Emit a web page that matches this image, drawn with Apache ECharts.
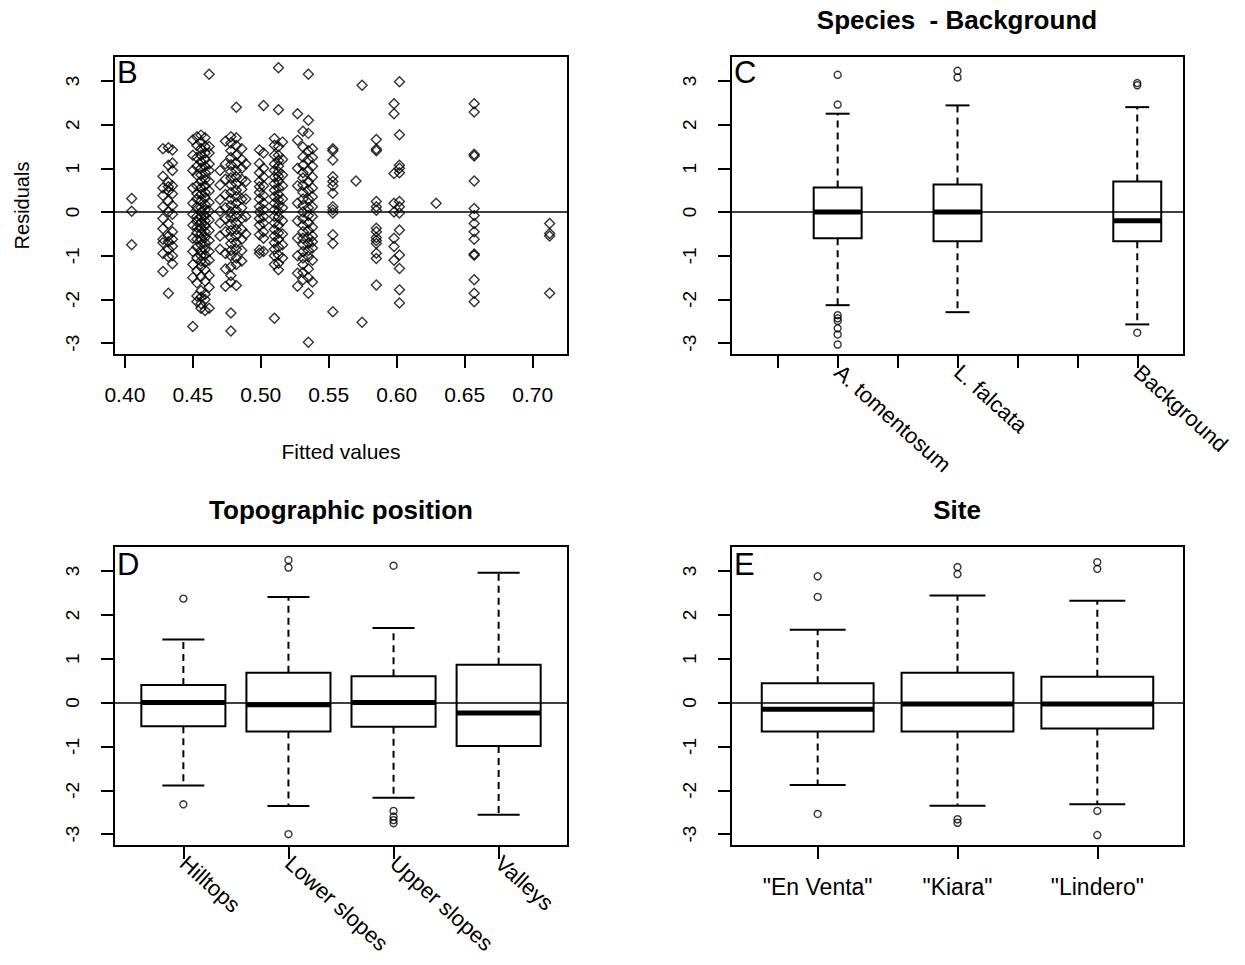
<!DOCTYPE html>
<html>
<head>
<meta charset="utf-8">
<script src="https://cdn.jsdelivr.net/npm/echarts@6/dist/echarts.min.js"></script>
<style>
html, body { margin: 0; padding: 0; background: #fff; }
#main { width: 1245px; height: 965px; }
</style>
</head>
<body>
<div id="main"></div>
<script>
// residuals vs fitted values (panel B), one list of residuals per fitted value
var fitted = [0.405, 0.428, 0.432, 0.435, 0.450, 0.453, 0.456, 0.459, 0.462, 0.470, 0.474, 0.478,
    0.482, 0.486, 0.489, 0.499, 0.502, 0.510, 0.513, 0.516, 0.527, 0.531, 0.535, 0.538, 0.553,
    0.570, 0.5745, 0.585, 0.598, 0.602, 0.629, 0.657, 0.7125];
var residuals = [
    [0.31, 0.02, -0.75],
    [1.45, 0.82, 0.55, 0.38, 0.12, -0.15, -0.38, -0.62, -0.70, -0.95, -1.36],
    [1.47, 1.07, 0.68, 0.58, 0.48, 0.25, 0.0, -0.27, -0.55, -0.68, -0.85, -1.02, -1.86],
    [1.42, 1.12, 0.95, 0.60, 0.42, 0.15, -0.05, -0.45, -0.62, -0.78, -1.0, -1.18],
    [1.65, 1.3, 0.95, 0.55, 0.2, -0.05, -0.3, -0.6, -0.9, -1.2, -1.5, -2.62],
    [1.72, 1.52, 1.25, 1.05, 0.85, 0.6, 0.42, 0.3, 0.12, -0.1, -0.22, -0.35, -0.48, -0.62, -0.8, -1.05, -1.35, -1.62, -1.92, -2.05],
    [1.76, 1.6, 1.45, 1.3, 1.15, 1.0, 0.85, 0.7, 0.55, 0.4, 0.25, 0.1, 0.0, -0.12, -0.25, -0.38, -0.5, -0.62, -0.75, -0.88, -1.0, -1.12, -1.25, -1.48, -1.8, -1.95, -2.1, -2.2],
    [1.7, 1.5, 1.35, 1.2, 1.05, 0.9, 0.75, 0.6, 0.45, 0.32, 0.18, 0.05, -0.08, -0.2, -0.32, -0.45, -0.58, -0.7, -0.85, -0.98, -1.15, -1.32, -1.58, -1.88, -2.0, -2.25],
    [3.15, 1.5, 1.35, 1.1, 0.95, 0.7, 0.48, 0.22, 0.02, -0.18, -0.42, -0.65, -0.9, -1.1, -1.45, -1.72, -2.2],
    [0.95, 0.62, 0.28, 0.02, -0.25, -0.55, -0.85],
    [1.62, 1.1, 0.75, 0.4, 0.1, -0.15, -0.45, -0.95, -1.3, -1.7],
    [1.72, 1.58, 1.4, 1.25, 1.08, 0.92, 0.78, 0.62, 0.45, 0.3, 0.15, 0.0, -0.12, -0.28, -0.42, -0.58, -0.72, -0.88, -1.0, -1.25, -1.45, -1.6, -2.31, -2.72],
    [2.4, 1.7, 1.52, 1.3, 1.12, 0.95, 0.8, 0.65, 0.5, 0.35, 0.2, 0.05, -0.1, -0.25, -0.4, -0.55, -0.7, -0.85, -1.05, -1.2, -1.68],
    [1.45, 1.2, 1.0, 0.75, 0.52, 0.3, 0.1, -0.15, -0.4, -0.62, -0.88, -1.12],
    [1.1, 0.7, 0.3, -0.1, -0.5],
    [1.42, 1.11, 0.9, 0.7, 0.58, 0.45, 0.3, 0.12, 0.0, -0.15, -0.3, -0.52, -0.87, -0.94],
    [2.44, 1.35, 1.0, 0.8, 0.6, 0.38, 0.2, 0.05, -0.1, -0.25, -0.45, -0.6, -0.9],
    [1.68, 1.53, 1.3, 1.1, 0.95, 0.8, 0.65, 0.5, 0.35, 0.2, 0.05, -0.1, -0.25, -0.4, -0.55, -0.7, -0.85, -1.0, -1.2, -2.43],
    [3.3, 2.34, 1.5, 1.3, 1.18, 1.05, 0.92, 0.82, 0.7, 0.55, 0.4, 0.28, 0.15, 0.02, -0.12, -0.3, -0.48, -0.62, -0.8, -0.98, -1.17, -1.32],
    [1.6, 1.2, 0.85, 0.6, 0.3, 0.1, -0.2, -0.5, -0.75, -1.05],
    [2.25, 1.64, 1.0, 0.6, 0.2, -0.2, -0.6, -1.0, -1.4, -1.7],
    [1.85, 1.49, 1.26, 1.07, 0.9, 0.78, 0.62, 0.45, 0.3, 0.15, 0.0, -0.15, -0.3, -0.45, -0.6, -0.75, -0.9, -1.05, -1.2, -1.38, -1.55],
    [3.15, 2.1, 1.8, 1.4, 1.2, 0.95, 0.7, 0.5, 0.3, 0.1, -0.08, -0.25, -0.42, -0.58, -0.72, -0.88, -1.02, -1.3, -1.5, -1.86, -2.98],
    [1.45, 1.25, 1.05, 0.8, 0.55, 0.35, 0.12, -0.1, -0.35, -0.55, -0.68, -0.82, -1.1, -1.6],
    [1.45, 1.40, 1.19, 0.81, 0.70, 0.60, 0.43, 0.12, 0.05, -0.02, -0.52, -0.72, -2.28],
    [0.71],
    [2.9, -2.52],
    [1.66, 1.44, 1.40, 0.24, 0.12, 0.04, -0.37, -0.45, -0.58, -0.65, -0.72, -0.94, -1.06, -1.67],
    [2.48, 2.25, 0.88, 0.2, 0.0, -0.6, -0.79, -1.1],
    [2.98, 1.77, 1.07, 1.0, 0.9, 0.24, 0.12, -0.02, -0.41, -0.98, -1.29, -1.78, -2.08],
    [0.2],
    [2.48, 2.29, 1.32, 1.28, 0.71, 0.08, -0.08, -0.26, -0.45, -0.62, -0.96, -0.99, -1.55, -1.86, -2.05],
    [-0.26, -0.49, -0.55, -1.86]
];
var fittedTicks = [0.40, 0.45, 0.50, 0.55, 0.60, 0.65, 0.70];
var yTicks = [-3, -2, -1, 0, 1, 2, 3];

// panel C: species - background   [lower whisker, Q1, median, Q3, upper whisker]
var speciesNames = ['A. tomentosum', 'L. falcata', 'Background'];
var speciesPos = [2, 4, 7];
var speciesTicks = [1, 2, 3, 4, 5, 6, 7];
var speciesBox = [[-2.13, -0.60, 0.0, 0.56, 2.25], [-2.29, -0.67, 0.0, 0.63, 2.44], [-2.57, -0.67, -0.20, 0.70, 2.40]];
var speciesOut = [[3.14, 2.46, -2.36, -2.43, -2.49, -2.66, -2.80, -3.03], [3.23, 3.08], [2.95, 2.90, -2.76]];

// panel D: topographic position
var topoNames = ['Hilltops', 'Lower slopes', 'Upper slopes', 'Valleys'];
var topoPos = [1, 2, 3, 4];
var topoBox = [[-1.89, -0.54, 0.0, 0.40, 1.44], [-2.36, -0.66, -0.05, 0.68, 2.41], [-2.17, -0.55, 0.0, 0.60, 1.70], [-2.56, -0.99, -0.24, 0.86, 2.96]];
var topoOut = [[2.37, -2.32], [3.25, 3.08, -3.0], [3.12, -2.47, -2.60, -2.68, -2.75], []];

// panel E: site
var siteNames = ['"En Venta"', '"Kiara"', '"Lindero"'];
var sitePos = [1, 2, 3];
var siteBox = [[-1.88, -0.66, -0.15, 0.44, 1.66], [-2.35, -0.66, -0.03, 0.68, 2.44], [-2.32, -0.59, -0.03, 0.59, 2.32]];
var siteOut = [[2.88, 2.41, -2.54], [3.09, 2.93, -2.66, -2.74], [3.2, 3.05, -2.47, -3.02]];

var FONT = '"Liberation Sans", Arial, sans-serif';
var BLACK = '#000';

function scatterPoints() {
    var pts = [];
    fitted.forEach(function (f, i) {
        residuals[i].forEach(function (r) { pts.push([f, r]); });
    });
    return pts;
}

function boxRows(pos, box) {
    return pos.map(function (p, i) { return [p].concat(box[i]); });
}

function outRows(pos, out) {
    var rows = [];
    pos.forEach(function (p, i) {
        out[i].forEach(function (v) { rows.push([p, v]); });
    });
    return rows;
}

function renderBox(params, api) {
    var x = api.value(0);
    var lo = api.coord([x, api.value(1)]);
    var q1 = api.coord([x, api.value(2)]);
    var md = api.coord([x, api.value(3)]);
    var q3 = api.coord([x, api.value(4)]);
    var hi = api.coord([x, api.value(5)]);
    var w = api.size([0.8, 0])[0];
    var cx = lo[0];
    var solid = { stroke: BLACK, lineWidth: 2, fill: null };
    var dashed = { stroke: BLACK, lineWidth: 2, lineDash: [7, 5], fill: null };
    return {
        type: 'group',
        children: [
            { type: 'line', shape: { x1: cx, y1: q3[1], x2: cx, y2: hi[1] }, style: dashed },
            { type: 'line', shape: { x1: cx, y1: q1[1], x2: cx, y2: lo[1] }, style: dashed },
            { type: 'line', shape: { x1: cx - w / 4, y1: hi[1], x2: cx + w / 4, y2: hi[1] }, style: solid },
            { type: 'line', shape: { x1: cx - w / 4, y1: lo[1], x2: cx + w / 4, y2: lo[1] }, style: solid },
            { type: 'rect', shape: { x: cx - w / 2, y: q3[1], width: w, height: q1[1] - q3[1] },
              style: { stroke: BLACK, lineWidth: 2, fill: 'none' } },
            { type: 'line', shape: { x1: cx - w / 2, y1: md[1], x2: cx + w / 2, y2: md[1] },
              style: { stroke: BLACK, lineWidth: 5 } }
        ]
    };
}

var zeroLine = {
    silent: true,
    symbol: ['none', 'none'],
    label: { show: false },
    lineStyle: { color: BLACK, width: 1.5, type: 'solid' },
    data: [{ yAxis: 0 }]
};

var openSymbol = { color: 'rgba(0,0,0,0)', borderColor: BLACK, borderWidth: 1.4 };

function xAxisBase(grid, min, max, ticks) {
    return {
        type: 'value', gridIndex: grid, min: min, max: max, position: 'bottom',
        axisLine: { show: false, onZero: false },
        splitLine: { show: false },
        axisTick: { show: true, customValues: ticks, length: 13, lineStyle: { color: BLACK, width: 2 } }
    };
}

function yAxisBase(grid) {
    return {
        type: 'value', gridIndex: grid, min: -3.27, max: 3.57, position: 'left',
        axisLine: { show: false, onZero: false },
        splitLine: { show: false },
        axisTick: { show: true, customValues: yTicks, length: 13, lineStyle: { color: BLACK, width: 2 } },
        axisLabel: { customValues: yTicks, rotate: 90, margin: 32, fontSize: 19, color: BLACK, fontFamily: FONT }
    };
}

function catLabels(pos, names, rot, size, margin) {
    return {
        customValues: pos, rotate: rot, margin: margin, fontSize: size, color: BLACK, fontFamily: FONT,
        formatter: function (v) { return names[pos.indexOf(Math.round(v))]; }
    };
}

var xB = xAxisBase(0, 0.392, 0.726, fittedTicks);
xB.axisLabel = { customValues: fittedTicks, margin: 29, fontSize: 21, color: BLACK, fontFamily: FONT,
    formatter: function (v) { return v.toFixed(2); } };
xB.name = 'Fitted values';
xB.nameLocation = 'middle';
xB.nameGap = 86;
xB.nameTextStyle = { fontSize: 21, color: BLACK, fontFamily: FONT };

var xC = xAxisBase(1, 0.22, 7.78, speciesTicks);
xC.axisLabel = catLabels(speciesPos, speciesNames, -42, 22, 14);
var xD = xAxisBase(2, 0.34, 4.66, topoPos);
xD.axisLabel = catLabels(topoPos, topoNames, -42, 22, 14);
var xE = xAxisBase(3, 0.38, 3.62, sitePos);
xE.axisLabel = catLabels(sitePos, siteNames, 0, 23, 29);

var yB = yAxisBase(0);
yB.name = 'Residuals';
yB.nameLocation = 'middle';
yB.nameGap = 82;
yB.nameTextStyle = { fontSize: 20, color: BLACK, fontFamily: FONT };

var grids = [
    { left: 114, top: 56, width: 454, height: 299 },
    { left: 731, top: 56, width: 453, height: 299 },
    { left: 114, top: 546, width: 454, height: 300 },
    { left: 731, top: 546, width: 453, height: 300 }
].map(function (g) {
    g.show = true;
    g.borderColor = BLACK;
    g.borderWidth = 2;
    g.backgroundColor = 'transparent';
    g.containLabel = false;
    g.outerBoundsMode = 'none';
    return g;
});

function label(text, x, y, size, weight) {
    return { type: 'text', x: x, y: y, silent: true,
        style: { text: text, fill: BLACK, font: weight + ' ' + size + 'px ' + FONT, align: 'left', verticalAlign: 'top' } };
}
function heading(text, x, y) {
    return { type: 'text', x: x, y: y, silent: true,
        style: { text: text, fill: BLACK, font: 'bold 26px ' + FONT, align: 'center', verticalAlign: 'middle' } };
}

function boxSeries(idx, pos, box, out) {
    return [
        { type: 'custom', xAxisIndex: idx, yAxisIndex: idx, renderItem: renderBox,
          encode: { x: 0, y: [1, 2, 3, 4, 5] }, data: boxRows(pos, box), markLine: zeroLine, z: 3 },
        { type: 'scatter', xAxisIndex: idx, yAxisIndex: idx, symbol: 'circle', symbolSize: 7,
          itemStyle: openSymbol, data: outRows(pos, out), z: 4 }
    ];
}

var option = {
    animation: false,
    backgroundColor: '#fff',
    grid: grids,
    xAxis: [xB, xC, xD, xE],
    yAxis: [yB, yAxisBase(1), yAxisBase(2), yAxisBase(3)],
    graphic: [
        label('B', 117, 57, 31, 'normal'),
        label('C', 734, 57, 31, 'normal'),
        label('D', 117, 549, 31, 'normal'),
        label('E', 734, 549, 31, 'normal'),
        heading('Species  - Background', 957, 20),
        heading('Topographic position', 341, 510),
        heading('Site', 957, 510)
    ],
    series: [
        { type: 'scatter', xAxisIndex: 0, yAxisIndex: 0, symbol: 'diamond', symbolSize: 10,
          itemStyle: openSymbol, data: scatterPoints(), markLine: zeroLine }
    ].concat(boxSeries(1, speciesPos, speciesBox, speciesOut))
     .concat(boxSeries(2, topoPos, topoBox, topoOut))
     .concat(boxSeries(3, sitePos, siteBox, siteOut))
};

var myChart = echarts.init(document.getElementById('main'), null, { renderer: 'svg' });
myChart.setOption(option);
</script>
</body>
</html>
